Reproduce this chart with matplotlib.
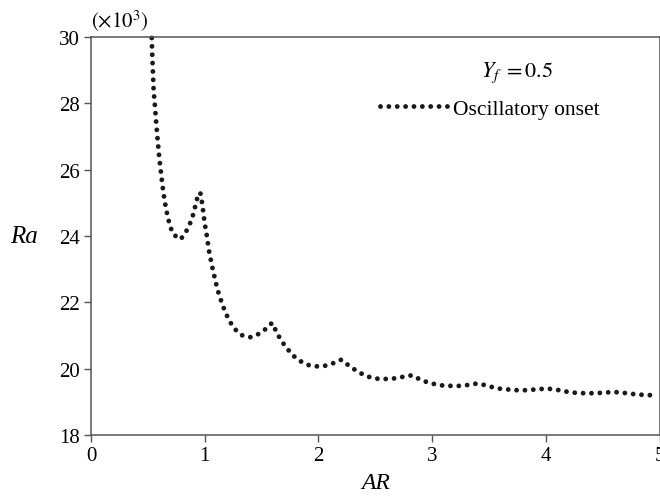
import matplotlib
matplotlib.use("Agg")
import matplotlib.pyplot as plt
from matplotlib.lines import Line2D

plt.rcParams['font.family'] = ['Liberation Serif', 'DejaVu Serif']
plt.rcParams['mathtext.fontset'] = 'stix'

ar = [0.534, 0.539, 0.545, 0.551, 0.563, 0.574, 0.587, 0.601, 0.618, 0.636, 0.660, 0.695,
      0.727, 0.789, 0.836, 0.871, 0.897, 0.917, 0.935, 0.961, 0.974, 0.985, 0.994, 1.005,
      1.018, 1.029, 1.040, 1.055, 1.070, 1.088, 1.106, 1.126, 1.152, 1.179, 1.214, 1.260,
      1.325, 1.401, 1.466, 1.530, 1.592, 1.627, 1.668, 1.721, 1.779, 1.850, 1.911, 1.988,
      2.064, 2.135, 2.201, 2.265, 2.333, 2.401, 2.463, 2.533, 2.606, 2.680, 2.753, 2.823,
      2.891, 2.958, 3.026, 3.098, 3.172, 3.245, 3.318, 3.389, 3.459, 3.533, 3.606, 3.676,
      3.749, 3.826, 3.899, 3.975, 4.048, 4.119, 4.193, 4.266, 4.339, 4.415, 4.488, 4.565,
      4.638, 4.711, 4.780, 4.857, 4.931, 4.970]
ra = [29.97, 29.42, 28.91, 28.40, 27.89, 27.38, 26.87, 26.34, 25.83, 25.32, 24.81, 24.29,
      24.04, 23.90, 24.13, 24.38, 24.63, 24.90, 25.15, 25.31, 25.06, 24.79, 24.54, 24.28,
      24.02, 23.76, 23.51, 23.26, 23.01, 22.74, 22.48, 22.23, 21.97, 21.72, 21.46, 21.21,
      21.01, 20.95, 21.03, 21.18, 21.38, 21.14, 20.87, 20.62, 20.39, 20.21, 20.11, 20.07,
      20.09, 20.17, 20.27, 20.10, 19.94, 19.81, 19.73, 19.69, 19.69, 19.71, 19.76, 19.80,
      19.68, 19.59, 19.53, 19.49, 19.48, 19.48, 19.51, 19.55, 19.51, 19.44, 19.39, 19.37,
      19.35, 19.35, 19.37, 19.39, 19.39, 19.35, 19.30, 19.27, 19.26, 19.26, 19.27, 19.29,
      19.29, 19.26, 19.23, 19.21, 19.20, 19.19]

xticks = [0, 1, 2, 3, 4, 5]
yticks = [18, 20, 22, 24, 26, 28, 30]

fig = plt.figure(figsize=(6.6, 5.02), dpi=100)
ax = fig.add_axes([91/660, 1-436/502, 568.5/660, 398/502])

dot = (0, (0.001, 1.72))
ax.plot(ar, ra, color='#1a1a1a', lw=3.5, linestyle=dot, dash_capstyle='round',
        clip_on=False)

ax.set_xlim(0, 5)
ax.set_ylim(18, 30)
ax.set_xticks(xticks)
ax.set_yticks(yticks)
ax.set_xticklabels([str(v) for v in xticks])
ax.set_yticklabels([str(v) for v in yticks])
for s in ax.spines.values():
    s.set_color('#555555')
    s.set_linewidth(1.1)
ax.tick_params(direction='out', length=5, width=1, color='#555555', labelsize=15,
               labelcolor='black', pad=3)

ax.set_xlabel('AR', style='italic', fontsize=17, labelpad=5)
ax.set_ylabel('Ra', style='italic', fontsize=18, rotation=0, labelpad=25, va='center')
fig.text(91/660, 1-21/502, r'$(\times10^3)$', fontsize=15, ha='left', va='center')

ax.text(0.749, 0.912, r'$Y_f\;=0.5$', transform=ax.transAxes, fontsize=16,
        ha='center', va='center')
h = Line2D([0], [0], color='#1a1a1a', lw=3.5, linestyle=dot, dash_capstyle='round')
ax.legend([h], ['Oscillatory onset'], loc='upper right', bbox_to_anchor=(0.894, 0.845),
          frameon=False, fontsize=15.5, handlelength=3.3, handletextpad=0.05,
          borderpad=0, borderaxespad=0)

fig.savefig('out.png', dpi=100)
